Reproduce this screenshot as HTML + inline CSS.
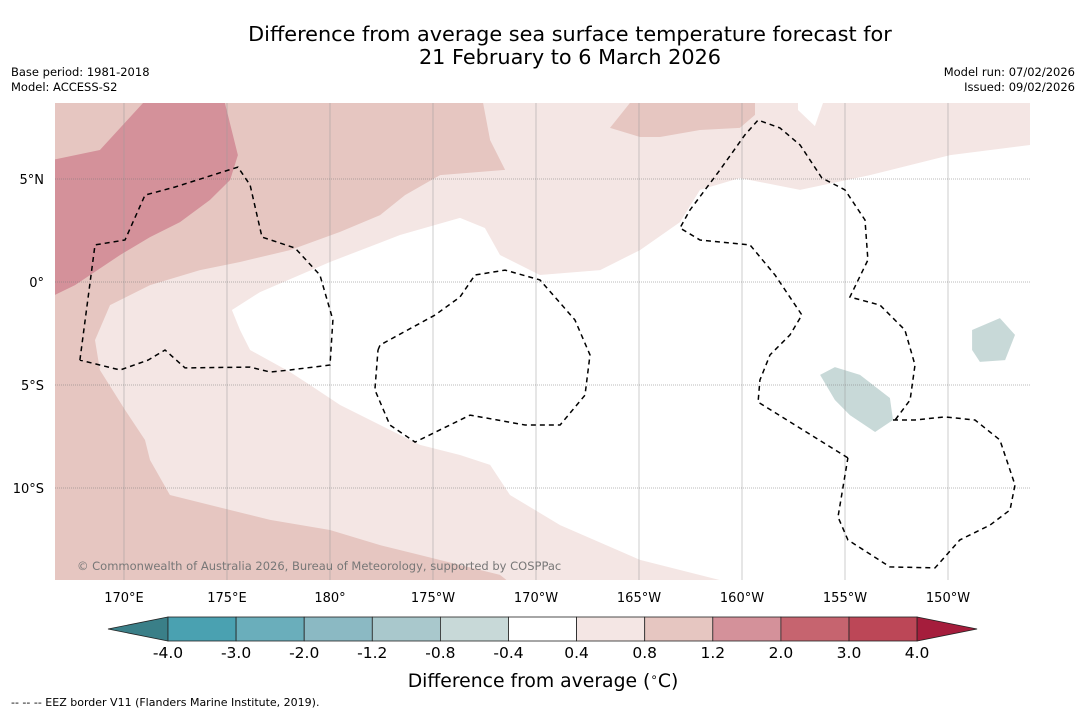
<!DOCTYPE html>
<html><head><meta charset="utf-8"><style>
html,body{margin:0;padding:0;background:#fff;}
svg{display:block;font-family:"DejaVu Sans","Liberation Sans",sans-serif;}
</style></head><body>
<svg id="chart" width="1085" height="713" viewBox="0 0 1085 713" xmlns="http://www.w3.org/2000/svg">
<rect width="1085" height="713" fill="#fff"/>
<text x="570" y="41" font-size="20.8" text-anchor="middle" fill="#000">Difference from average sea surface temperature forecast for</text>
<text x="570" y="64" font-size="20.8" text-anchor="middle" fill="#000">21 February to 6 March 2026</text>
<text x="11" y="76" font-size="11.5">Base period: 1981-2018</text>
<text x="11" y="91" font-size="11.5">Model: ACCESS-S2</text>
<text x="1075" y="76" font-size="11.5" text-anchor="end">Model run: 07/02/2026</text>
<text x="1075" y="91" font-size="11.5" text-anchor="end">Issued: 09/02/2026</text>
<defs><clipPath id="mapclip"><rect x="55" y="103" width="975" height="477"/></clipPath></defs>
<g id="map" clip-path="url(#mapclip)"></g>
<g id="axes"></g>
<g id="cbar"></g>
<text x="543" y="687" font-size="18.8" text-anchor="middle">Difference from average (<tspan font-size="12" dy="-6">∘</tspan><tspan dy="6">C)</tspan></text>
<text x="11" y="706" font-size="11">--  --  -- EEZ border V11 (Flanders Marine Institute, 2019).</text>
</svg>
<script>
const lonTicks=[170,175,180,185,190,195,200,205,210];
const lonLabels=["170°E","175°E","180°","175°W","170°W","165°W","160°W","155°W","150°W"];
const latTicks=[5,0,-5,-10];
const latLabels=["5°N","0°","5°S","10°S"];
const levels=[-4.0,-3.0,-2.0,-1.2,-0.8,-0.4,0.4,0.8,1.2,2.0,3.0,4.0];
const levelLabels=["-4.0","-3.0","-2.0","-1.2","-0.8","-0.4","0.4","0.8","1.2","2.0","3.0","4.0"];
const levelColors=["#4aa1b1","#6aaebb","#8bb9c3","#a9c8cc","#c8d9d8","#ffffff","#f4e6e4","#e6c6c1","#d4919a","#c6646f","#bc4757"];
const underColor="#3a7f88", overColor="#a51d3c";
const regionWhite=[[175.24,-1.36],[176.60,-0.49],[180.0,0.97],[183.40,2.28],[186.31,3.11],[187.52,2.62],[188.25,1.31],[190.19,0.34],[193.11,0.58],[195.05,1.55],[196.99,2.91],[197.96,4.47],[199.90,5.05],[202.82,4.47],[206.21,5.19],[210.10,6.16],[213.98,6.65],[213.98,-14.47],[198.93,-14.47],[195.05,-13.49],[191.17,-11.80],[188.74,-10.34],[187.77,-8.88],[186.31,-8.40],[184.37,-7.91],[182.43,-6.94],[180.49,-5.97],[179.03,-5.0],[178.06,-4.37],[176.12,-3.30],[175.63,-2.33]];
const regionWhiteTop=[[202.72,8.69],[203.93,8.69],[203.54,7.57],[202.72,8.35]];
const regionPinkLeft=[[166.5,8.69],[187.43,8.69],[187.77,6.89],[188.50,5.44],[185.34,5.19],[183.64,4.22],[182.43,3.25],[180.49,2.43],[178.06,1.55],[175.63,0.97],[173.69,0.58],[171.26,-0.15],[169.32,-1.12],[168.59,-2.82],[168.83,-4.27],[170.05,-6.21],[171.02,-7.67],[171.26,-8.64],[172.23,-10.34],[175.15,-11.07],[177.09,-11.55],[180.0,-12.04],[182.43,-12.77],[184.37,-13.25],[186.31,-13.74],[188.25,-14.22],[188.74,-14.6],[166.5,-14.6]];
const regionPinkTop=[[193.59,7.48],[194.56,8.69],[200.63,8.69],[200.63,8.11],[199.90,7.48],[197.96,7.38],[196.02,7.04],[195.05,7.04]];
const regionRose=[[166.5,5.92],[168.83,6.41],[170.92,8.69],[174.90,8.69],[175.53,6.16],[175.15,4.95],[174.17,3.98],[172.72,2.91],[171.26,2.18],[169.81,1.31],[167.62,-0.15],[166.5,-0.7]];
const regionTeal1=[[203.79,-4.51],[204.51,-4.13],[205.73,-4.51],[207.18,-5.63],[207.33,-6.70],[206.46,-7.28],[205.24,-6.46],[204.51,-5.73]];
const regionTeal2=[[211.17,-2.33],[212.52,-1.75],[213.25,-2.57],[212.77,-3.79],[211.55,-3.88],[211.17,-3.30]];
const regions=[[0.6,regionWhite,"#ffffff"],[0.6,regionWhiteTop,"#ffffff"],[1.0,regionPinkLeft],[1.0,regionPinkTop],[1.5,regionRose],[-0.6,regionTeal1],[-0.6,regionTeal2]];
const eezLeft=[[167.86,-3.79],[168.59,1.80],[170.05,2.04],[171.02,4.22],[172.48,4.61],[175.53,5.58],[176.12,4.71],[176.70,2.18],[178.30,1.65],[179.51,0.34],[180.14,-1.84],[180.0,-4.03],[178.06,-4.27],[177.09,-4.37],[176.12,-4.13],[172.96,-4.17],[171.99,-3.30],[171.17,-3.79],[169.81,-4.27],[167.86,-3.79]];
const eezMid=[[182.33,-3.30],[182.43,-3.06],[185.10,-1.60],[186.31,-0.73],[187.04,0.34],[188.50,0.58],[190.19,0.10],[191.89,-1.84],[192.62,-3.54],[192.38,-5.49],[191.17,-6.94],[189.47,-6.94],[186.80,-6.46],[184.13,-7.77],[182.91,-6.94],[182.18,-5.24],[182.33,-3.30]];
const eezRight=[[205.14,-8.54],[200.78,-5.83],[200.87,-4.76],[201.36,-3.54],[202.33,-2.57],[202.91,-1.60],[201.60,0.34],[200.39,1.80],[197.96,2.04],[196.99,2.62],[197.47,3.49],[198.93,5.44],[200.14,7.14],[200.78,7.86],[201.84,7.48],[202.82,6.65],[203.88,5.05],[205.0,4.47],[205.97,3.01],[206.11,1.07],[205.24,-0.73],[206.70,-1.12],[207.91,-2.33],[208.40,-4.03],[208.16,-5.73],[207.43,-6.70]];
const eezRight2=[[207.33,-6.70],[208.40,-6.70],[209.85,-6.55],[211.31,-6.70],[212.52,-7.67],[213.25,-9.85],[213.01,-11.07],[212.04,-11.80],[210.58,-12.52],[209.37,-13.88],[207.18,-13.83],[205.14,-12.52],[204.66,-11.41],[205.14,-8.54]];
const eezLines=[eezLeft,eezMid,eezRight,eezRight2];

const NS="http://www.w3.org/2000/svg";
const X0=55,X1=1030,Y0=103,Y1=580;
const xScale=lon=>124+(lon-170)*20.6;
const yScale=lat=>282-lat*20.6;
function colorFor(v){if(v<levels[0])return underColor;if(v>=levels[levels.length-1])return overColor;for(let i=0;i<levels.length-1;i++){if(v>=levels[i]&&v<levels[i+1])return levelColors[i];}return "#fff";}
function pts(arr){return arr.map(p=>xScale(p[0]).toFixed(1)+","+yScale(p[1]).toFixed(1)).join(" ");}
function mk(tag,attrs,parent){const e=document.createElementNS(NS,tag);for(const k in attrs)e.setAttribute(k,attrs[k]);parent.appendChild(e);return e;}
const map=document.getElementById('map');
const bg=mk('rect',{x:X0,y:Y0,width:X1-X0,height:Y1-Y0,fill:colorFor(0.6)},map);


regions.forEach((r,i)=>{
  const p=mk('polygon',{points:pts(r[1]),fill:r[2]||colorFor(r[0]),stroke:"none"},map);
  
  
});
const axes=document.getElementById('axes');
lonTicks.forEach((t,i)=>{
  const x=xScale(t);
  const l=mk('line',{x1:x,x2:x,y1:Y0,y2:Y1,stroke:"#999","stroke-width":0.5},map);
  
  
  const tx=mk('text',{x:x,y:602,"font-size":13,"text-anchor":"middle"},axes);
  tx.textContent=lonLabels[i];
  
  
});
latTicks.forEach((t,i)=>{
  const y=yScale(t);
  const l=mk('line',{x1:X0,x2:X1,y1:y,y2:y,stroke:"#777","stroke-width":0.5,"stroke-dasharray":"1,1"},map);
  
  
  const tx=mk('text',{x:44,y:y+5,"font-size":13,"text-anchor":"end"},axes);
  tx.textContent=latLabels[i];
  
  
});
eezLines.forEach(e=>{
  const p=mk('polyline',{points:pts(e),fill:"none",stroke:"#000","stroke-width":1.5,"stroke-dasharray":"5,4"},map);
  
  
});
const cr=mk('text',{x:77,y:570,"font-size":11.5,fill:"#777"},map);
cr.textContent="© Commonwealth of Australia 2026, Bureau of Meteorology, supported by COSPPac";


const cb=document.getElementById('cbar');
const CB0=168,CBW=68.1,CBY=617,CBH=24;
const under=mk('polygon',{points:`108,${CBY+CBH/2} ${CB0},${CBY} ${CB0},${CBY+CBH}`,fill:underColor,stroke:"#222","stroke-width":0.8},cb);


levelColors.forEach((c,i)=>{
  const r=mk('rect',{x:CB0+i*CBW,y:CBY,width:CBW,height:CBH,fill:c,stroke:"#222","stroke-width":0.8},cb);
  
  
});
const endX=CB0+levelColors.length*CBW;
const over=mk('polygon',{points:`${endX},${CBY} ${endX+60},${CBY+CBH/2} ${endX},${CBY+CBH}`,fill:overColor,stroke:"#222","stroke-width":0.8},cb);


levelLabels.forEach((s,i)=>{
  const t=mk('text',{x:CB0+i*CBW,y:658,"font-size":15.5,"text-anchor":"middle"},cb);
  t.textContent=s;
  
  
});
</script>
</body></html>
